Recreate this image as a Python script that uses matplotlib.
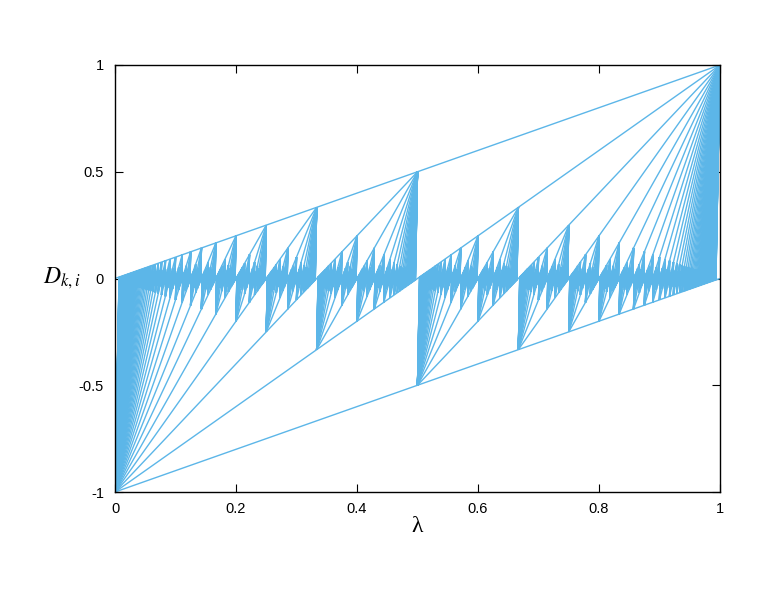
import numpy as np
import matplotlib
matplotlib.use("Agg")
import matplotlib.pyplot as plt
from matplotlib.collections import LineCollection

plt.rcParams["mathtext.fontset"] = "stix"

# D_{k,i}(lambda) = k*lambda - i for each Farey fraction i/k (k <= max_denominator),
# drawn between its Farey parents a/b and c/d.
max_denominator = 150
# envelope lines from 0/1 and 1/1: D = lambda - i
envelope_offsets = [0, 1]

x_ticks = [0, 0.2, 0.4, 0.6, 0.8, 1]
x_tick_labels = ["0", "0.2", "0.4", "0.6", "0.8", "1"]
y_ticks = [-1, -0.5, 0, 0.5, 1]
y_tick_labels = ["-1", "-0.5", "0", "0.5", "1"]

color = "#5cb6e8"


def farey_parents(p, q):
    # left parent a/b with p*b - q*a = 1, 0 < b <= q
    b = pow(p, -1, q) if q > 1 else 1
    a = (p * b - 1) // q
    d = q - b
    c = p - a
    return a, b, c, d


fig = plt.figure(figsize=(7.66, 5.92), dpi=100)
ax = fig.add_axes([115/766, 1 - 492/592, (720-115)/766, (492-65)/592])

segs = []
for c0 in envelope_offsets:
    segs.append([(0, 0 - c0), (1, 1 - c0)])
for k in range(2, max_denominator + 1):
    for i in range(1, k):
        if np.gcd(i, k) != 1:
            continue
        a, b, c, d = farey_parents(i, k)
        x0, x1 = a / b, c / d
        segs.append([(x0, k * x0 - i), (x1, k * x1 - i)])

lc = LineCollection(segs, colors=color, linewidths=1.0, antialiased=True)
ax.add_collection(lc)

ax.set_xlim(0, 1)
ax.set_ylim(-1, 1)
ax.set_xticks(x_ticks)
ax.set_xticklabels(x_tick_labels)
ax.set_yticks(y_ticks)
ax.set_yticklabels(y_tick_labels)
ax.tick_params(direction="in", length=6, width=0.8, top=True, right=True,
               labelsize=10.5, colors="black")
ax.tick_params(axis="x", pad=7)
ax.tick_params(axis="y", pad=8)
for lab in ax.get_xticklabels() + ax.get_yticklabels():
    lab.set_fontfamily("Liberation Sans")
for s in ax.spines.values():
    s.set_linewidth(1.0)

ax.set_xlabel("λ", fontsize=17, labelpad=0, family="Liberation Serif")
ax.set_ylabel(r"$D_{k,i}$", fontsize=17, rotation=0, labelpad=12, va="center")

fig.savefig("out.png", dpi=100)
